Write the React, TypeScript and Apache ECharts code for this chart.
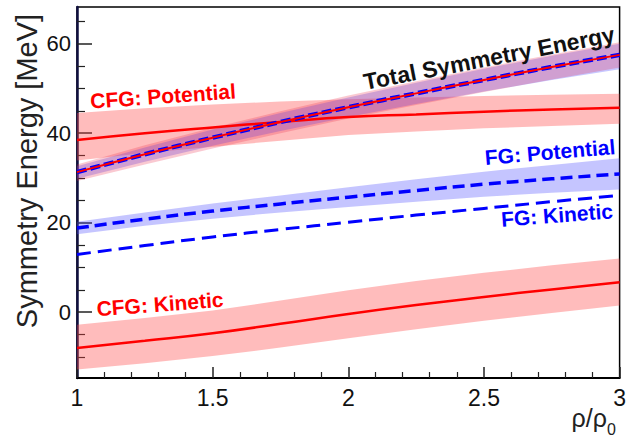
import React, { useEffect, useRef } from "react";
import * as echarts from "echarts";

// ---- data ----
const xs = [1, 1.25, 1.5, 1.75, 2, 2.25, 2.5, 2.75, 3];

const cfgPot = [38.5, 40.0, 41.3, 42.5, 43.6, 44.2, 44.8, 45.3, 45.7];
const cfgPotLo = [33.9, 35.6, 37.0, 38.3, 39.6, 40.4, 41.1, 41.6, 42.1];
const cfgPotHi = [44.5, 45.6, 46.4, 47.1, 47.6, 48.0, 48.3, 48.6, 48.8];

const cfgKin = [-8.0, -6.4, -4.7, -2.6, -0.4, 1.6, 3.4, 5.1, 6.7];
const cfgKinLo = [-12.8, -11.4, -9.8, -7.9, -5.8, -3.8, -1.9, -0.2, 1.5];
const cfgKinHi = [-2.8, -1.3, 0.4, 2.6, 4.9, 7.0, 8.8, 10.5, 12.0];

const fgPot = [18.8, 20.8, 22.6, 24.2, 25.7, 27.2, 28.6, 29.8, 30.9];
const fgPotLo = [17.4, 19.3, 20.9, 22.3, 23.5, 24.7, 25.8, 26.7, 27.4];
const fgPotHi = [20.2, 22.3, 24.3, 26.1, 27.9, 29.7, 31.4, 32.9, 34.4];

const fgKin = [12.9, 14.9, 16.8, 18.5, 20.1, 21.7, 23.2, 24.7, 26.1];

const total = [31.3, 35.3, 39.0, 42.5, 45.8, 48.9, 51.9, 54.8, 57.5];
const totalCfgLo = [29.3, 33.0, 36.6, 40.0, 43.3, 46.3, 49.2, 52.0, 54.7];
const totalCfgHi = [33.0, 37.3, 41.2, 44.9, 48.4, 51.6, 54.7, 57.6, 60.3];
const totalFgLo = [29.8, 33.6, 37.2, 40.5, 43.6, 46.5, 49.3, 51.9, 54.3];
const totalFgHi = [32.6, 36.8, 40.8, 44.5, 48.0, 51.3, 54.4, 57.3, 60.0];

const yMajorTicks = [0, 20, 40, 60];
const yMinorTicks = [-10, -5, 5, 10, 15, 25, 30, 35, 45, 50, 55, 65];

const FONT = "'Liberation Sans', Arial, Helvetica, sans-serif";

function band(name: string, lo: number[], hi: number[], color: string, z: number) {
  return {
    type: "custom",
    name,
    z,
    silent: true,
    data: xs.map((x, i) => [x, lo[i], hi[i]]),
    encode: { x: 0, y: [1, 2] },
    renderItem: (params: any, api: any) => {
      if (params.dataIndex !== 0) return null;
      const top = xs.map((x, i) => api.coord([x, hi[i]]));
      const bot = xs.map((x, i) => api.coord([x, lo[i]])).reverse();
      return {
        type: "polygon",
        shape: { points: top.concat(bot) },
        style: { fill: color },
      };
    },
  };
}

function line(name: string, vals: number[], color: string, width: number, type: any, z: number) {
  return {
    type: "line",
    name,
    z,
    data: xs.map((x, i) => [x, vals[i]]),
    symbol: "none",
    smooth: true,
    lineStyle: { color, width, type },
    silent: true,
  };
}

export default function App() {
  const ref = useRef<HTMLDivElement>(null);
  useEffect(() => {
    if (!ref.current) return;
    const chart = echarts.init(ref.current, undefined, { renderer: "svg" });
    const option: any = {
      animation: false,
      backgroundColor: "#ffffff",
      grid: {
        left: 77,
        right: 7,
        top: 7,
        bottom: 58,
        show: true,
        borderColor: "#000",
        borderWidth: 1.5,
        backgroundColor: "transparent",
      },
      xAxis: {
        type: "value",
        min: 1,
        max: 3,
        interval: 0.5,
        axisLine: { show: true, onZero: false, lineStyle: { color: "#000", width: 2 } },
        axisTick: { show: true, inside: true, length: 11, lineStyle: { color: "#222", width: 1.5 } },
        minorTick: { show: true, splitNumber: 5, length: 6, lineStyle: { color: "#222", width: 1.2 } },
        axisLabel: { fontSize: 23, color: "#111", margin: 8, fontFamily: FONT },
        splitLine: { show: false },
        minorSplitLine: { show: false },
      },
      yAxis: [
        {
          type: "value",
          min: -14.7,
          max: 68.2,
          axisLine: { show: true, onZero: false, lineStyle: { color: "#101040", width: 2.5 } },
          axisTick: {
            show: true,
            inside: true,
            length: 15,
            customValues: yMajorTicks,
            lineStyle: { color: "#222", width: 1.5 },
          },
          axisLabel: {
            customValues: yMajorTicks,
            fontSize: 22,
            color: "#111",
            margin: 6,
            fontFamily: FONT,
          },
          splitLine: { show: false },
        },
        {
          type: "value",
          min: -14.7,
          max: 68.2,
          position: "left",
          offset: 0,
          axisLine: { show: false, onZero: false },
          axisLabel: { show: false },
          axisTick: {
            show: true,
            inside: true,
            length: 8,
            customValues: yMinorTicks,
            lineStyle: { color: "#222", width: 1.2 },
          },
          splitLine: { show: false },
        },
      ],
      series: [
        band("CFG Potential band", cfgPotLo, cfgPotHi, "rgba(255,70,70,0.36)", 1),
        band("CFG Kinetic band", cfgKinLo, cfgKinHi, "rgba(255,70,70,0.36)", 1),
        band("FG Potential band", fgPotLo, fgPotHi, "rgba(80,80,255,0.33)", 1),
        band("Total FG band", totalFgLo, totalFgHi, "rgba(70,70,255,0.30)", 2),
        band("Total CFG band", totalCfgLo, totalCfgHi, "rgba(235,40,70,0.25)", 2),
        line("CFG: Potential", cfgPot, "#ff0000", 2.5, "solid", 3),
        line("CFG: Kinetic", cfgKin, "#ff0000", 2.5, "solid", 3),
        line("FG: Potential", fgPot, "#0000ff", 3.5, [12, 6], 3),
        line("FG: Kinetic", fgKin, "#0000ff", 3, [14, 7], 3),
        line("Total FG", total, "#0000ff", 4.5, [10, 4], 4),
        line("Total CFG", total, "#ff0000", 2, "solid", 5),
      ],
      graphic: [
        {
          type: "text",
          x: 27,
          y: 171,
          rotation: Math.PI / 2,
          style: {
            text: "Symmetry Energy [MeV]",
            font: `29px ${FONT}`,
            fill: "#222",
            align: "center",
            verticalAlign: "middle",
          },
        },
        {
          type: "text",
          x: 607,
          y: 418,
          style: {
            text: "ρ/ρ",
            font: `25px ${FONT}`,
            fill: "#222",
            align: "right",
            verticalAlign: "middle",
          },
        },
        {
          type: "text",
          x: 607,
          y: 429,
          style: {
            text: "0",
            font: `16px ${FONT}`,
            fill: "#222",
            align: "left",
            verticalAlign: "middle",
          },
        },
        {
          type: "text",
          x: 163,
          y: 96,
          rotation: 0.07,
          z: 10,
          style: { text: "CFG: Potential", font: `bold 21px ${FONT}`, fill: "#ff0000", align: "center", verticalAlign: "middle" },
        },
        {
          type: "text",
          x: 489,
          y: 58,
          rotation: 0.19,
          z: 10,
          style: { text: "Total Symmetry Energy", font: `bold 23px ${FONT}`, fill: "#111", align: "center", verticalAlign: "middle" },
        },
        {
          type: "text",
          x: 550,
          y: 152,
          rotation: 0.085,
          z: 10,
          style: { text: "FG: Potential", font: `bold 21px ${FONT}`, fill: "#0000ff", align: "center", verticalAlign: "middle" },
        },
        {
          type: "text",
          x: 557,
          y: 215,
          rotation: 0.075,
          z: 10,
          style: { text: "FG: Kinetic", font: `bold 21px ${FONT}`, fill: "#0000ff", align: "center", verticalAlign: "middle" },
        },
        {
          type: "text",
          x: 160,
          y: 304,
          rotation: 0.075,
          z: 10,
          style: { text: "CFG: Kinetic", font: `bold 21px ${FONT}`, fill: "#ff0000", align: "center", verticalAlign: "middle" },
        },
      ],
    };
    chart.setOption(option);
    return () => chart.dispose();
  }, []);
  return (
    <div
      ref={ref}
      style={{ position: "fixed", left: 0, top: 0, width: 629, height: 436, background: "#fff" }}
    />
  );
}
